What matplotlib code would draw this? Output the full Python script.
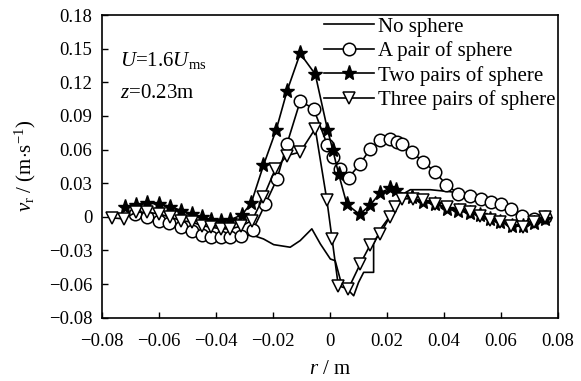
import numpy as np
import matplotlib.pyplot as plt

plt.rcParams['font.family'] = ['Liberation Serif', 'DejaVu Serif']
plt.rcParams['mathtext.fontset'] = 'custom'
plt.rcParams['mathtext.rm'] = 'Liberation Serif'
plt.rcParams['mathtext.it'] = 'Liberation Serif:italic'

# data
r_none = [-0.072, -0.068, -0.064, -0.060, -0.056, -0.052, -0.048, -0.044, -0.040,
          -0.036, -0.032, -0.0268, -0.0233, -0.0197, -0.0139, -0.0104, -0.0063, -0.0033,
          0.0002, 0.0019, 0.0037, 0.0060, 0.0084, 0.0101, 0.0119, 0.0154, 0.0154, 0.0183,
          0.0213, 0.0236, 0.0259, 0.0283, 0.0353, 0.0423, 0.0494, 0.0553, 0.0623, 0.0715,
          0.0763]
v_none = [0.002, 0.001, -0.002, -0.005, -0.007, -0.010, -0.013, -0.015, -0.016,
          -0.016, -0.016, -0.0167, -0.0197, -0.0248, -0.0271, -0.0212, -0.0107, -0.0242,
          -0.0376, -0.0391, -0.0560, -0.0640, -0.0704, -0.0585, -0.0495, -0.0495, -0.0242,
          -0.0092, 0.0012, 0.0116, 0.0206, 0.0242, 0.0242, 0.0224, 0.0197, 0.0146, 0.0072,
          -0.0004, -0.0004]

r_one = [-0.0683, -0.0642, -0.0601, -0.0563, -0.0522, -0.0484, -0.0449, -0.0416, -0.0381,
         -0.0349, -0.0313, -0.0270, -0.0227, -0.0185, -0.0150, -0.0104, -0.0057, -0.0009,
         0.0012, 0.0037, 0.0066, 0.0107, 0.0142, 0.0177, 0.0213, 0.0237, 0.0254, 0.0289,
         0.0329, 0.0371, 0.0409, 0.0452, 0.0494, 0.0532, 0.0567, 0.0602, 0.0638, 0.0676,
         0.0718, 0.0757]
v_one = [0.0027, -0.0004, -0.0033, -0.0057, -0.0087, -0.0129, -0.0159, -0.0177, -0.0177,
         -0.0177, -0.0168, -0.0117, 0.0111, 0.0340, 0.0653, 0.1031, 0.0966, 0.0644,
         0.0532, 0.0429, 0.0349, 0.0474, 0.0606, 0.0682, 0.0697, 0.0667, 0.0652, 0.0577,
         0.0489, 0.0398, 0.0287, 0.0206, 0.0190, 0.0162, 0.0136, 0.0112, 0.0072, 0.0006,
         -0.0018, 0.0000]

r_two = [-0.0721, -0.0681, -0.0642, -0.0601, -0.0560, -0.0522, -0.0484, -0.0449, -0.0416,
         -0.0381, -0.0349, -0.0308, -0.0276, -0.0233, -0.0188, -0.0150, -0.0104, -0.0051,
         -0.0008, 0.0011, 0.0031, 0.0060, 0.0105, 0.0143, 0.0177, 0.0211, 0.0234, 0.0289,
         0.0329, 0.0371, 0.0412, 0.0452, 0.0493, 0.0529, 0.0564, 0.0599, 0.0640, 0.0679,
         0.0716, 0.0755]
v_two = [0.0092, 0.0110, 0.0121, 0.0116, 0.0092, 0.0056, 0.0027, -0.0004, -0.0027,
         -0.0039, -0.0027, 0.0020, 0.0122, 0.0459, 0.0778, 0.1123, 0.1457, 0.1272,
         0.0778, 0.0593, 0.0384, 0.0112, 0.0021, 0.0108, 0.0214, 0.0255, 0.0236, 0.0175,
         0.0131, 0.0116, 0.0071, 0.0056, 0.0032, 0.0012, -0.0018, -0.0048, -0.0078, -0.0078,
         -0.0057, -0.0018]

r_three = [-0.0765, -0.0724, -0.0681, -0.0642, -0.0601, -0.0560, -0.0522, -0.0484, -0.0449,
           -0.0416, -0.0381, -0.0349, -0.0313, -0.0273, -0.0233, -0.0191, -0.0150, -0.0104,
           -0.0051, -0.0010, 0.0008, 0.0030, 0.0065, 0.0107, 0.0142, 0.0177, 0.0210, 0.0230,
           0.0254, 0.0294, 0.0329, 0.0371, 0.0412, 0.0456, 0.0494, 0.0529, 0.0564, 0.0599,
           0.0636, 0.0679, 0.0716, 0.0757]
v_three = [-0.0009, -0.0018, 0.0041, 0.0041, 0.0027, -0.0004, -0.0033, -0.0048, -0.0078,
           -0.0093, -0.0107, -0.0107, -0.0084, -0.0033, 0.0176, 0.0428, 0.0547, 0.0577,
           0.0786, 0.0146, -0.0196, -0.0615, -0.0643, -0.0420, -0.0250, -0.0152, -0.0004,
           0.0086, 0.0161, 0.0161, 0.0146, 0.0116, 0.0086, 0.0063, 0.0041, 0.0011, -0.0024,
           -0.0048, -0.0078, -0.0087, -0.0048, -0.0004]

x_ticks = [-0.08, -0.06, -0.04, -0.02, 0, 0.02, 0.04, 0.06, 0.08]
x_tick_labels = ['\u22120.08', '\u22120.06', '\u22120.04', '\u22120.02', '0',
                 '0.02', '0.04', '0.06', '0.08']
# the source labels its lowest tick -0.08 although it sits one step (0.03) below -0.06
y_ticks = [-0.09, -0.06, -0.03, 0, 0.03, 0.06, 0.09, 0.12, 0.15, 0.18]
y_tick_labels = ['\u22120.08', '\u22120.06', '\u22120.03', '0', '0.03', '0.06',
                 '0.09', '0.12', '0.15', '0.18']

fig = plt.figure(figsize=(5.81, 3.81), dpi=100)
ax = fig.add_axes([0.1756, 0.166, 0.784, 0.7946])

lw = 1.2
ms = 9
ax.plot(r_none, v_none, '-', color='black', lw=lw, label='No sphere')
ax.plot(r_one, v_one, '-o', color='black', lw=lw, ms=ms, mfc='white', mec='black',
        mew=1.1, label='A pair of sphere')
ax.plot(r_two, v_two, '-*', color='black', lw=lw, ms=ms + 2, mfc='black', mec='black',
        label='Two pairs of sphere')
ax.plot(r_three, v_three, '-v', color='black', lw=lw, ms=ms, mfc='white', mec='black',
        mew=1.1, label='Three pairs of sphere')

ax.set_xlim(-0.08, 0.08)
ax.set_ylim(-0.09, 0.18)
ax.set_xticks(x_ticks)
ax.set_xticklabels(x_tick_labels)
ax.set_yticks(y_ticks)
ax.set_yticklabels(y_tick_labels)
ax.tick_params(direction='in', length=4, width=1, labelsize=13.5, top=False, right=False)
ax.tick_params(axis='x', pad=11)
ax.tick_params(axis='y', pad=7)
for sp in ax.spines.values():
    sp.set_linewidth(1.2)

ax.set_xlabel('$\\mathit{r}$ / m', fontsize=15, labelpad=7)
ax.set_ylabel('$\\mathit{v}_\\mathrm{r}$ / (m$\\cdot$s$^{-1}$)', fontsize=15, labelpad=8)

ax.text(0.04, 0.833, '$\\mathit{U}$=1.6$\\mathit{U}_\\mathrm{ms}$', transform=ax.transAxes,
        fontsize=15)
ax.text(0.04, 0.727, '$\\mathit{z}$=0.23m', transform=ax.transAxes, fontsize=15)

ax.legend(loc='upper right', bbox_to_anchor=(1.0, 1.0), frameon=False, fontsize=15,
          handlelength=2.4, handletextpad=0.2, labelspacing=0.22, borderaxespad=0.0,
          borderpad=0.1)

fig.savefig('out.png', dpi=100)
